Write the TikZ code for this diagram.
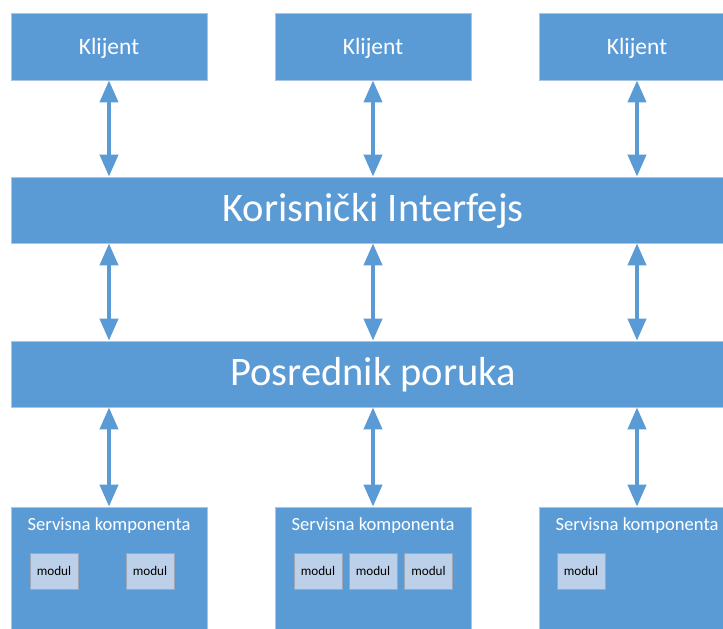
\documentclass[tikz,border=0pt]{standalone}
\usepackage{fontspec}
\setmainfont{Carlito}
\usetikzlibrary{arrows.meta}
\definecolor{tierblue}{HTML}{5B9BD5}
\definecolor{tieredge}{HTML}{A9C4E4}
\definecolor{modfill}{HTML}{BDD0EA}
\definecolor{modedge}{HTML}{9EA7B3}
\tikzset{
  tier/.style={rectangle, fill=tierblue, draw=tieredge, line width=0.8pt,
    text=white, inner sep=0pt, anchor=center},
  client/.style={tier, minimum width=196pt, minimum height=67pt,
    text height=15.6pt, text depth=0pt, font=\fontsize{23.5}{27}\selectfont},
  bus/.style={tier, minimum width=724pt, minimum height=66pt,
    text height=23pt, text depth=0pt, font=\fontsize{40.5}{46}\selectfont},
  service/.style={tier, minimum width=196pt, minimum height=150pt},
  svclabel/.style={text=white, inner sep=0pt, anchor=base, font=\fontsize{18.6}{22}\selectfont},
  modbox/.style={rectangle, fill=modfill, draw=modedge, line width=0.8pt,
    minimum width=48pt, minimum height=36pt, inner sep=0pt,
    text height=8pt, text depth=0pt, font=\fontsize{13.2}{15}\selectfont},
  link/.style={draw=tierblue, line width=4pt,
    {Triangle[width=18pt,length=22pt]}-{Triangle[width=18pt,length=22pt]}},
}
\begin{document}
\begin{tikzpicture}[x=1pt, y=-1pt]
  \useasboundingbox (0,0) rectangle (723,629);
  \clip (0,0) rectangle (723,629);

  % clients
  \node[client] (k1) at (109,46.5) {Klijent};
  \node[client] (k2) at (373,46.5) {Klijent};
  \node[client] (k3) at (637,46.5) {Klijent};

  % shared layers
  \node[bus] (ui) at (373,210) {Korisnički Interfejs};
  \node[bus] (pp) at (373,374) {Posrednik poruka};

  % service components
  \node[service] (s1) at (109,582) {};
  \node[service] (s2) at (373,582) {};
  \node[service] (s3) at (637,582) {};
  \node[svclabel] (l1) at (109,530) {Servisna komponenta};
  \node[svclabel] (l2) at (373,530) {Servisna komponenta};
  \node[svclabel] (l3) at (637,530) {Servisna komponenta};

  % modules
  \node[modbox] (m11) at (54,571) {modul};
  \node[modbox] (m12) at (150,571) {modul};
  \node[modbox] (m21) at (318,571) {modul};
  \node[modbox] (m22) at (373,571) {modul};
  \node[modbox] (m23) at (428.5,571) {modul};
  \node[modbox] (m31) at (581,571) {modul};

  % two-way links between layers
  \foreach \c/\s in {k1/s1, k2/s2, k3/s3} {
    \draw[link] (\c.south) -- (\c.south |- ui.north);
    \draw[link] (\c.south |- ui.south) -- (\c.south |- pp.north);
    \draw[link] (\c.south |- pp.south) -- (\s.north);
  }
\end{tikzpicture}
\end{document}
